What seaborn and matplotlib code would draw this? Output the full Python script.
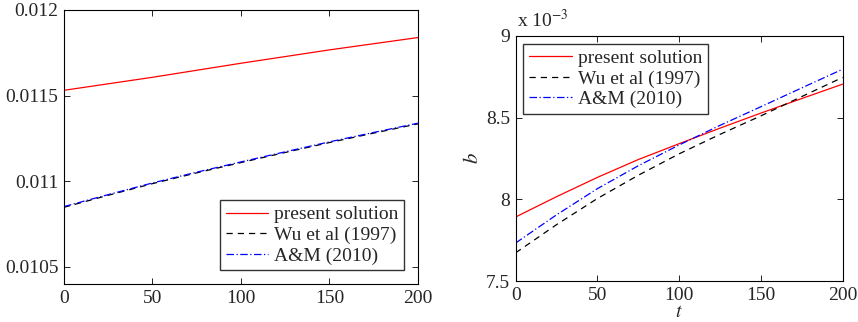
import matplotlib

matplotlib.use("Agg")
import matplotlib.pyplot as plt
import pandas as pd
import seaborn as sns
from matplotlib.ticker import FuncFormatter

t = [0, 25, 50, 75, 100, 125, 150, 175, 200]

# left panel
leftPresent = [0.011531, 0.011569, 0.011607, 0.011648, 0.011689, 0.011728, 0.011767, 0.011803, 0.011839]
leftWu = [0.010848, 0.010918, 0.010986, 0.011049, 0.011109, 0.011168, 0.011226, 0.011281, 0.011335]
leftAM = [0.010852, 0.010922, 0.010990, 0.011053, 0.011113, 0.011172, 0.011230, 0.011285, 0.011339]

# right panel (x 10^-3)
rightPresent = [7.892, 8.016, 8.134, 8.243, 8.340, 8.435, 8.527, 8.616, 8.704]
rightWu = [7.673, 7.845, 8.005, 8.147, 8.278, 8.397, 8.510, 8.628, 8.745]
rightAM = [7.733, 7.905, 8.065, 8.205, 8.332, 8.452, 8.566, 8.681, 8.795]

labels = ["present solution", "Wu et al (1997)", "A&M (2010)"]
colors = ["#ff0000", "#000000", "#0000ff"]
dashes = [(None, None), (5, 4), (6, 2, 1, 2)]

sns.set_style("ticks")
plt.rcParams["font.family"] = ["Liberation Serif", "DejaVu Serif"]
plt.rcParams["mathtext.fontset"] = "stix"
plt.rcParams["xtick.direction"] = "in"
plt.rcParams["ytick.direction"] = "in"


def drawPanel(ax, series, legendLoc, pad):
    for values, label, color, dash in zip(series, labels, colors, dashes):
        df = pd.DataFrame({"t": t, "v": values})
        sns.lineplot(data=df, x="t", y="v", ax=ax, color=color, linewidth=0.9, label=label)
        if dash[0] is not None:
            ax.lines[-1].set_dashes(dash)
    ax.set_xlim(0, 200)
    ax.set_xticks([0, 50, 100, 150, 200])
    ax.tick_params(axis="both", which="both", top=True, right=True, labelsize=14,
                   length=4, width=0.6, color="black", pad=4)
    for spine in ax.spines.values():
        spine.set_visible(True)
        spine.set_linewidth(0.8)
        spine.set_color("black")
    leg = ax.legend(loc=legendLoc, fontsize=14, frameon=True, fancybox=False,
                    edgecolor="black", handlelength=2.2, handletextpad=0.3,
                    borderpad=0.3, labelspacing=0.15, borderaxespad=pad)
    leg.get_frame().set_linewidth(1.0)
    ax.set_xlabel("")
    ax.set_ylabel("")


fig = plt.figure(figsize=(8.58, 3.22), dpi=100)
axL = fig.add_axes([0.0746, 0.118, 0.4125, 0.851])
axR = fig.add_axes([0.601, 0.127, 0.381, 0.762])

drawPanel(axL, [leftPresent, leftWu, leftAM], "lower right", 0.7)
axL.set_ylim(0.0104, 0.012)
axL.set_yticks([0.0105, 0.011, 0.0115, 0.012])
axL.yaxis.set_major_formatter(FuncFormatter(lambda v, p: f"{v:g}"))

drawPanel(axR, [rightPresent, rightWu, rightAM], "upper left", 0.4)
axR.set_ylim(7.5, 9)
axR.set_yticks([7.5, 8, 8.5, 9])
axR.yaxis.set_major_formatter(FuncFormatter(lambda v, p: f"{v:g}"))
axR.set_xlabel("$t$", fontsize=14, labelpad=0)
axR.set_ylabel("$b$", fontsize=15, labelpad=2)
axR.text(0.005, 1.02, "x 10$^{-3}$", transform=axR.transAxes, fontsize=14,
         ha="left", va="bottom")

fig.savefig("out.png", dpi=100)
